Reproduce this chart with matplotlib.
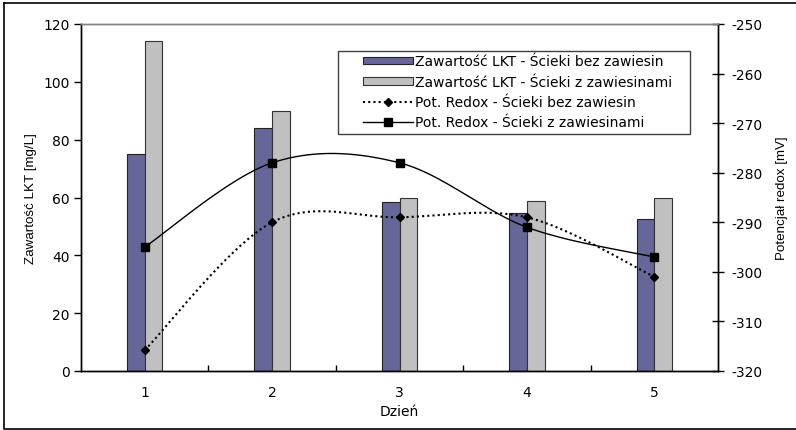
import numpy as np
import matplotlib
matplotlib.use("Agg")
import matplotlib.pyplot as plt
from matplotlib.lines import Line2D
from matplotlib.patches import Rectangle

plt.rcParams['font.family'] = ['DejaVu Sans']
plt.rcParams['font.size'] = 10
plt.rcParams['axes.unicode_minus'] = False

days = [1, 2, 3, 4, 5]
lkt_bez = [75, 84, 58.5, 54.5, 52.5]
lkt_z = [114, 90, 60, 58.7, 59.8]
redox_bez = [-315.8, -290, -289, -289, -301]
redox_z = [-295, -278, -278, -291, -297]

labels = ['Zawartość LKT - Ścieki bez zawiesin',
          'Zawartość LKT - Ścieki z zawiesinami',
          'Pot. Redox - Ścieki bez zawiesin',
          'Pot. Redox - Ścieki z zawiesinami']


def smooth(x, y, n=40):
    # Catmull-Rom style bezier through every point (ends duplicated)
    x = np.asarray(x, float)
    y = np.asarray(y, float)
    px = np.concatenate([[x[0]], x, [x[-1]]])
    py = np.concatenate([[y[0]], y, [y[-1]]])
    t = np.linspace(0, 1, n)
    xs, ys = [], []
    for i in range(1, len(px) - 2):
        p0 = np.array([px[i - 1], py[i - 1]])
        p1 = np.array([px[i], py[i]])
        p2 = np.array([px[i + 1], py[i + 1]])
        p3 = np.array([px[i + 2], py[i + 2]])
        c1 = p1 + (p2 - p0) / 6
        c2 = p2 - (p3 - p1) / 6
        b = ((1 - t) ** 3)[:, None] * p1 + (3 * (1 - t) ** 2 * t)[:, None] * c1 \
            + (3 * (1 - t) * t ** 2)[:, None] * c2 + (t ** 3)[:, None] * p2
        xs.append(b[:, 0])
        ys.append(b[:, 1])
    return np.concatenate(xs), np.concatenate(ys)


W, H = 796, 431
fig = plt.figure(figsize=(W / 100, H / 100), dpi=100)
ax = fig.add_axes([81 / W, 1 - 372 / H, (718 - 81) / W, (372 - 25) / H])
ax2 = ax.twinx()

x = np.array(days, float)
bw = 0.139
ax.bar(x - bw / 2, lkt_bez, width=bw, color='#666699', edgecolor='#222222', linewidth=0.8,
       label=labels[0], zorder=2)
ax.bar(x + bw / 2, lkt_z, width=bw, color='#C0C0C0', edgecolor='#333333', linewidth=0.8,
       label=labels[1], zorder=2)

sx, sy = smooth(days, redox_bez)
ax2.plot(sx, sy, color='black', lw=1.5, dashes=(1, 1.5))
ax2.plot(days, redox_bez, ls='none', marker='D', ms=4.5, color='black')
sx, sy = smooth(days, redox_z)
ax2.plot(sx, sy, color='black', lw=1)
ax2.plot(days, redox_z, ls='none', marker='s', ms=5.5, color='black')

ax.set_xlim(0.5, 5.5)
ax.set_ylim(0, 120)
ax.set_yticks(np.arange(0, 121, 20))
ax2.set_ylim(-320, -250)
ax2.set_yticks(np.arange(-320, -249, 10))

ax.set_xticks(days)
ax.set_xticks(np.arange(1.5, 5, 1), minor=True)
ax.tick_params(axis='x', which='major', length=0, pad=10)
ax.tick_params(axis='x', which='minor', direction='in', length=4, width=1, color='black')
ax.tick_params(axis='y', direction='out', length=5, width=1, pad=3)
ax2.tick_params(axis='y', direction='inout', length=9, width=1, pad=5)

for a in (ax, ax2):
    a.spines['top'].set_color('#808080')
    a.spines['left'].set_color('black')
    a.spines['bottom'].set_color('black')
    a.spines['right'].set_color('black')
    for s in a.spines.values():
        s.set_linewidth(1)

ax.set_xlabel('Dzień', labelpad=4)
ax.set_ylabel('Zawartość LKT [mg/L]', labelpad=5,
              family='Liberation Sans', fontsize=9.6)
ax2.set_ylabel('Potencjał redox [mV]', labelpad=10,
               family='Liberation Sans', fontsize=9.6)

handles = [Rectangle((0, 0), 1, 1, facecolor='#666699', edgecolor='#222222', lw=0.8),
           Rectangle((0, 0), 1, 1, facecolor='#C0C0C0', edgecolor='#333333', lw=0.8),
           Line2D([], [], color='black', lw=1.5, dashes=(1, 1.5), marker='D', ms=4.5),
           Line2D([], [], color='black', lw=1, marker='s', ms=5.5)]
leg = fig.legend(handles, labels, loc='upper left', frameon=False,
                 bbox_to_anchor=(363 / W, 1 - 55.5 / H), borderpad=0, borderaxespad=0,
                 handlelength=3.6, handletextpad=0.15, labelspacing=0.45,
                 handleheight=0.45)

# legend frame and outer chart border in pixel coordinates
fig.add_artist(Rectangle((338 / W, 1 - 135 / H), (690 - 338) / W, (135 - 52) / H,
                         transform=fig.transFigure, fill=False, edgecolor='#404040', lw=1))
fig.add_artist(Line2D([4 / W, 4 / W, 1], [1 - 4 / H, 1 - 429.5 / H, 1 - 429.5 / H],
                      transform=fig.transFigure, color='black', lw=1.2))
fig.add_artist(Line2D([4 / W, 1], [1 - 4 / H, 1 - 4 / H],
                      transform=fig.transFigure, color='black', lw=1.2))

fig.savefig('out.png', dpi=100)
